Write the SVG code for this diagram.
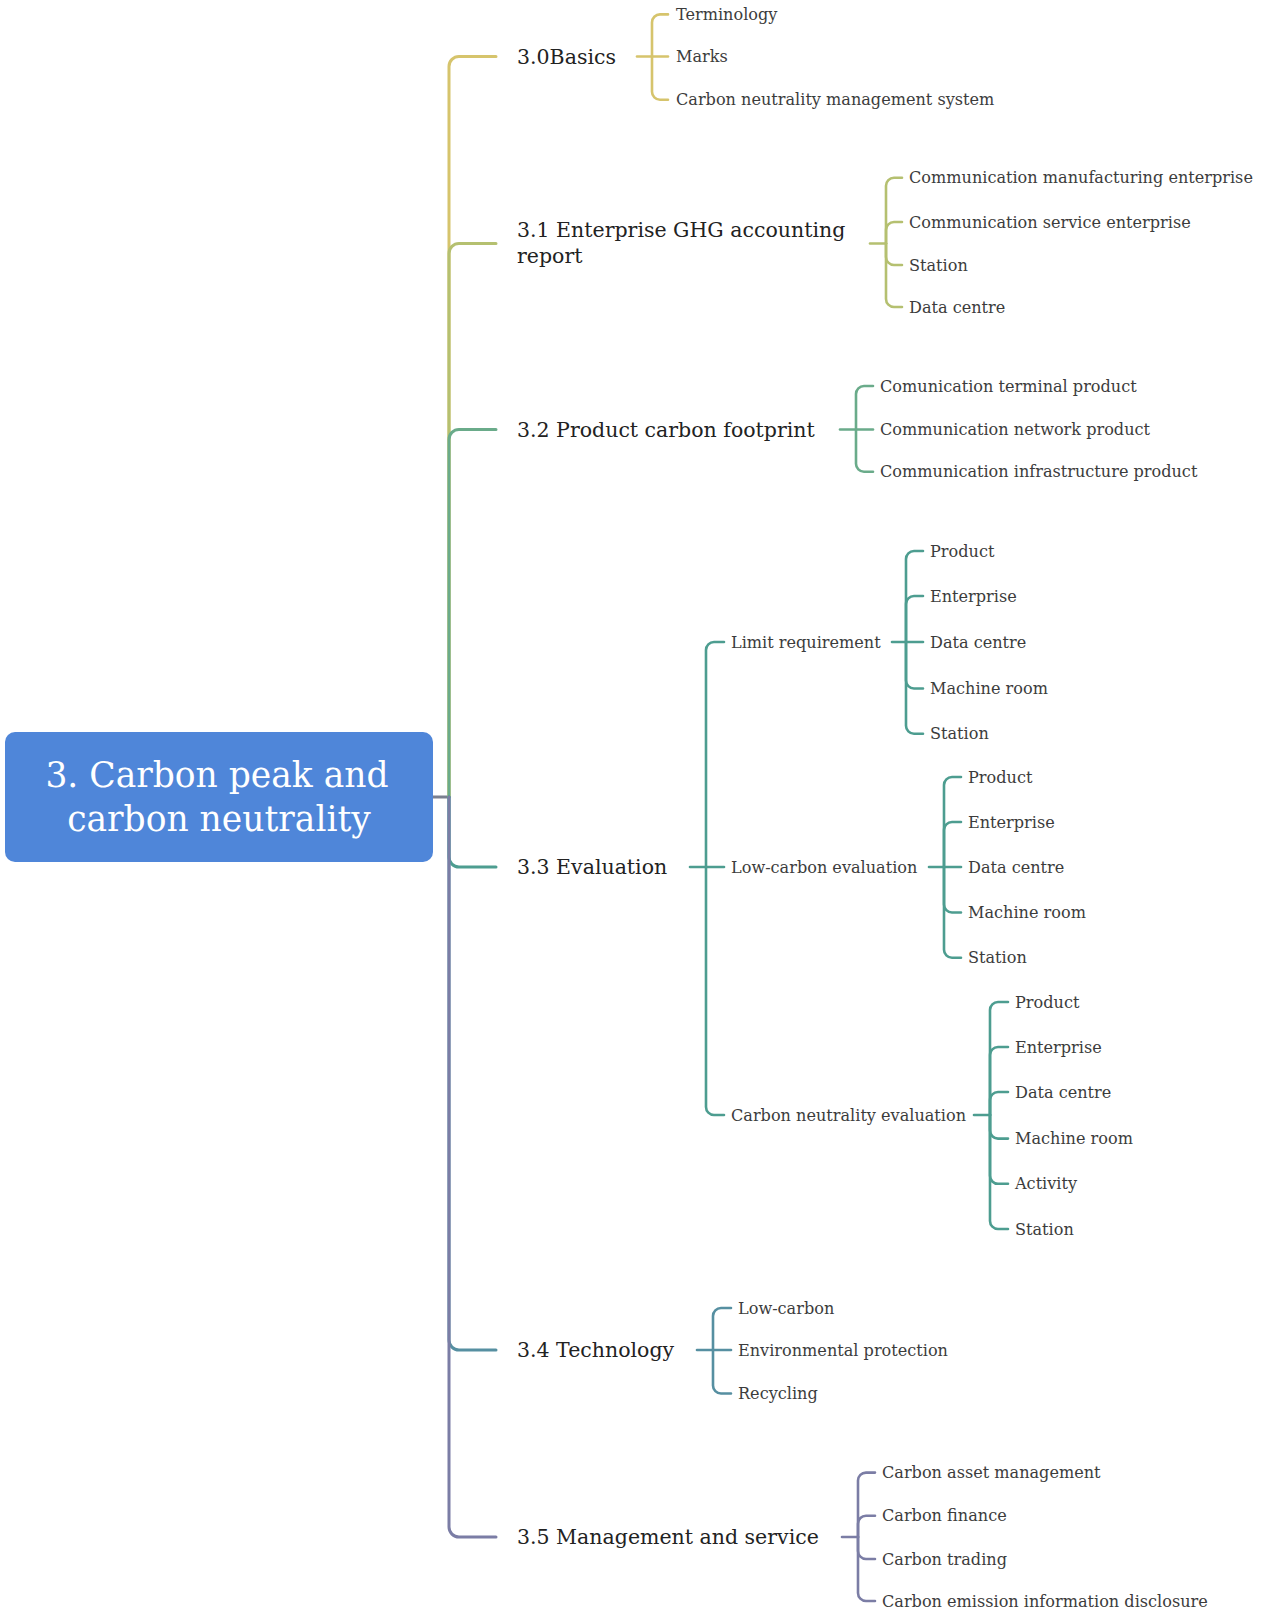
<svg xmlns="http://www.w3.org/2000/svg" width="1268" height="1611" viewBox="0 0 1268 1611">
<style>
.c{fill:none;stroke-linecap:round;stroke-linejoin:round}
.t0{stroke:#d6c46c;stroke-width:3}
.t1{stroke:#b5c070;stroke-width:3}
.t2{stroke:#6aab8a;stroke-width:3}
.t3{stroke:#4d9d90;stroke-width:3}
.t4{stroke:#568fa1;stroke-width:3}
.t5{stroke:#7b7da5;stroke-width:3}
.s{stroke-width:2.6}
.l1{font-family:"DejaVu Serif","Liberation Serif",serif;font-size:20.5px;fill:#222;dominant-baseline:central}
.l2{font-family:"DejaVu Serif","Liberation Serif",serif;font-size:16.1px;fill:#3c3c3c;dominant-baseline:central}
.root{font-family:"DejaVu Serif","Liberation Serif",serif;font-size:34.5px;fill:#fff;text-anchor:middle;dominant-baseline:central}
</style>
<rect width="1268" height="1611" fill="#fff"/>
<g id="connectors">
<path class="c" stroke="#7a7f8f" stroke-width="3" d="M433,797 H449"/>
<path class="c t0" d="M449,797 V66.5 A10,10 0 0 1 459,56.5 H496"/>
<path class="c t1" d="M449,797 V253.5 A10,10 0 0 1 459,243.5 H496"/>
<path class="c t2" d="M449,797 V439.5 A10,10 0 0 1 459,429.5 H496"/>
<path class="c t3" d="M449,797 V857 A10,10 0 0 0 459,867 H496"/>
<path class="c t4" d="M449,797 V1340 A10,10 0 0 0 459,1350 H496"/>
<path class="c t5" d="M449,797 V1527 A10,10 0 0 0 459,1537 H496"/>

<g class="c t0 s">
<path d="M637,56.5 H668"/>
<path d="M652,56.5 V22.4 A8,8 0 0 1 660,14.4 H668"/>
<path d="M652,56.5 V91.7 A8,8 0 0 0 660,99.7 H668"/>
</g>
<g class="c t1 s">
<path d="M870,243.5 H886"/>
<path d="M886,243.5 V185.8 A8,8 0 0 1 894,177.8 H902"/>
<path d="M886,243.5 V230 A8,8 0 0 1 894,222 H902"/>
<path d="M886,243.5 V257 A8,8 0 0 0 894,265 H902"/>
<path d="M886,243.5 V299 A8,8 0 0 0 894,307 H902"/>
</g>
<g class="c t2 s">
<path d="M840,429.5 H873"/>
<path d="M856,429.5 V394 A8,8 0 0 1 864,386 H873"/>
<path d="M856,429.5 V463.7 A8,8 0 0 0 864,471.7 H873"/>
</g>
<g class="c t3 s">
<path d="M690,867 H724"/>
<path d="M706,867 V650 A8,8 0 0 1 714,642 H724"/>
<path d="M706,867 V1107 A8,8 0 0 0 714,1115 H724"/>
<path d="M892,642 H923"/>
<path d="M906,642 V559 A8,8 0 0 1 914,551 H923"/>
<path d="M906,642 V604 A8,8 0 0 1 914,596 H923"/>
<path d="M906,642 V680.5 A8,8 0 0 0 914,688.5 H923"/>
<path d="M906,642 V725.7 A8,8 0 0 0 914,733.7 H923"/>
<path d="M929,867 H961"/>
<path d="M944,867 V785 A8,8 0 0 1 952,777 H961"/>
<path d="M944,867 V830 A8,8 0 0 1 952,822 H961"/>
<path d="M944,867 V904.5 A8,8 0 0 0 952,912.5 H961"/>
<path d="M944,867 V949.7 A8,8 0 0 0 952,957.7 H961"/>
<path d="M974,1115 H990"/>
<path d="M990,1115 V1010 A8,8 0 0 1 998,1002 H1008"/>
<path d="M990,1115 V1055 A8,8 0 0 1 998,1047 H1008"/>
<path d="M990,1115 V1100 A8,8 0 0 1 998,1092 H1008"/>
<path d="M990,1115 V1130.6 A8,8 0 0 0 998,1138.6 H1008"/>
<path d="M990,1115 V1175.8 A8,8 0 0 0 998,1183.8 H1008"/>
<path d="M990,1115 V1221 A8,8 0 0 0 998,1229 H1008"/>
</g>
<g class="c t4 s">
<path d="M697,1350 H731"/>
<path d="M713,1350 V1316 A8,8 0 0 1 721,1308 H731"/>
<path d="M713,1350 V1385.5 A8,8 0 0 0 721,1393.5 H731"/>
</g>
<g class="c t5 s">
<path d="M842,1537 H858"/>
<path d="M858,1537 V1480.6 A8,8 0 0 1 866,1472.6 H875"/>
<path d="M858,1537 V1523.7 A8,8 0 0 1 866,1515.7 H875"/>
<path d="M858,1537 V1551 A8,8 0 0 0 866,1559 H875"/>
<path d="M858,1537 V1593 A8,8 0 0 0 866,1601 H875"/>
</g>
</g>

<g id="root">
<rect x="5" y="732" width="428" height="130" rx="10" fill="#4f86d9"/>
<text class="root" x="217" y="775">3. Carbon peak and</text>
<text class="root" x="219" y="819">carbon neutrality</text>
</g>

<g id="n30"><text class="l1" x="517" y="56.5">3.0Basics</text></g>
<g id="n30a"><text class="l2" x="676" y="14.4">Terminology</text></g>
<g id="n30b"><text class="l2" x="676" y="56.5">Marks</text></g>
<g id="n30c"><text class="l2" x="676" y="99.7">Carbon neutrality management system</text></g>

<g id="n31"><text class="l1" x="517" y="230">3.1 Enterprise GHG accounting</text><text class="l1" x="517" y="256">report</text></g>
<g id="n31a"><text class="l2" x="909" y="177.8">Communication manufacturing enterprise</text></g>
<g id="n31b"><text class="l2" x="909" y="222">Communication service enterprise</text></g>
<g id="n31c"><text class="l2" x="909" y="265">Station</text></g>
<g id="n31d"><text class="l2" x="909" y="307">Data centre</text></g>

<g id="n32"><text class="l1" x="517" y="429.5">3.2 Product carbon footprint</text></g>
<g id="n32a"><text class="l2" x="880" y="386">Comunication terminal product</text></g>
<g id="n32b"><text class="l2" x="880" y="429.5">Communication network product</text></g>
<g id="n32c"><text class="l2" x="880" y="471.7">Communication infrastructure product</text></g>

<g id="n33"><text class="l1" x="517" y="867">3.3 Evaluation</text></g>
<g id="n33a"><text class="l2" x="731" y="642">Limit requirement</text></g>
<g id="n33a1"><text class="l2" x="930" y="551">Product</text></g>
<g id="n33a2"><text class="l2" x="930" y="596">Enterprise</text></g>
<g id="n33a3"><text class="l2" x="930" y="642">Data centre</text></g>
<g id="n33a4"><text class="l2" x="930" y="688.5">Machine room</text></g>
<g id="n33a5"><text class="l2" x="930" y="733.7">Station</text></g>
<g id="n33b"><text class="l2" x="731" y="867">Low-carbon evaluation</text></g>
<g id="n33b1"><text class="l2" x="968" y="777">Product</text></g>
<g id="n33b2"><text class="l2" x="968" y="822">Enterprise</text></g>
<g id="n33b3"><text class="l2" x="968" y="867">Data centre</text></g>
<g id="n33b4"><text class="l2" x="968" y="912.5">Machine room</text></g>
<g id="n33b5"><text class="l2" x="968" y="957.7">Station</text></g>
<g id="n33c"><text class="l2" x="731" y="1115">Carbon neutrality evaluation</text></g>
<g id="n33c1"><text class="l2" x="1015" y="1002">Product</text></g>
<g id="n33c2"><text class="l2" x="1015" y="1047">Enterprise</text></g>
<g id="n33c3"><text class="l2" x="1015" y="1092">Data centre</text></g>
<g id="n33c4"><text class="l2" x="1015" y="1138.6">Machine room</text></g>
<g id="n33c5"><text class="l2" x="1015" y="1183.8">Activity</text></g>
<g id="n33c6"><text class="l2" x="1015" y="1229">Station</text></g>

<g id="n34"><text class="l1" x="517" y="1350">3.4 Technology</text></g>
<g id="n34a"><text class="l2" x="738" y="1308">Low-carbon</text></g>
<g id="n34b"><text class="l2" x="738" y="1350">Environmental protection</text></g>
<g id="n34c"><text class="l2" x="738" y="1393.5">Recycling</text></g>

<g id="n35"><text class="l1" x="517" y="1537">3.5 Management and service</text></g>
<g id="n35a"><text class="l2" x="882" y="1472.6">Carbon asset management</text></g>
<g id="n35b"><text class="l2" x="882" y="1515.7">Carbon finance</text></g>
<g id="n35c"><text class="l2" x="882" y="1559">Carbon trading</text></g>
<g id="n35d"><text class="l2" x="882" y="1601">Carbon emission information disclosure</text></g>
</svg>
